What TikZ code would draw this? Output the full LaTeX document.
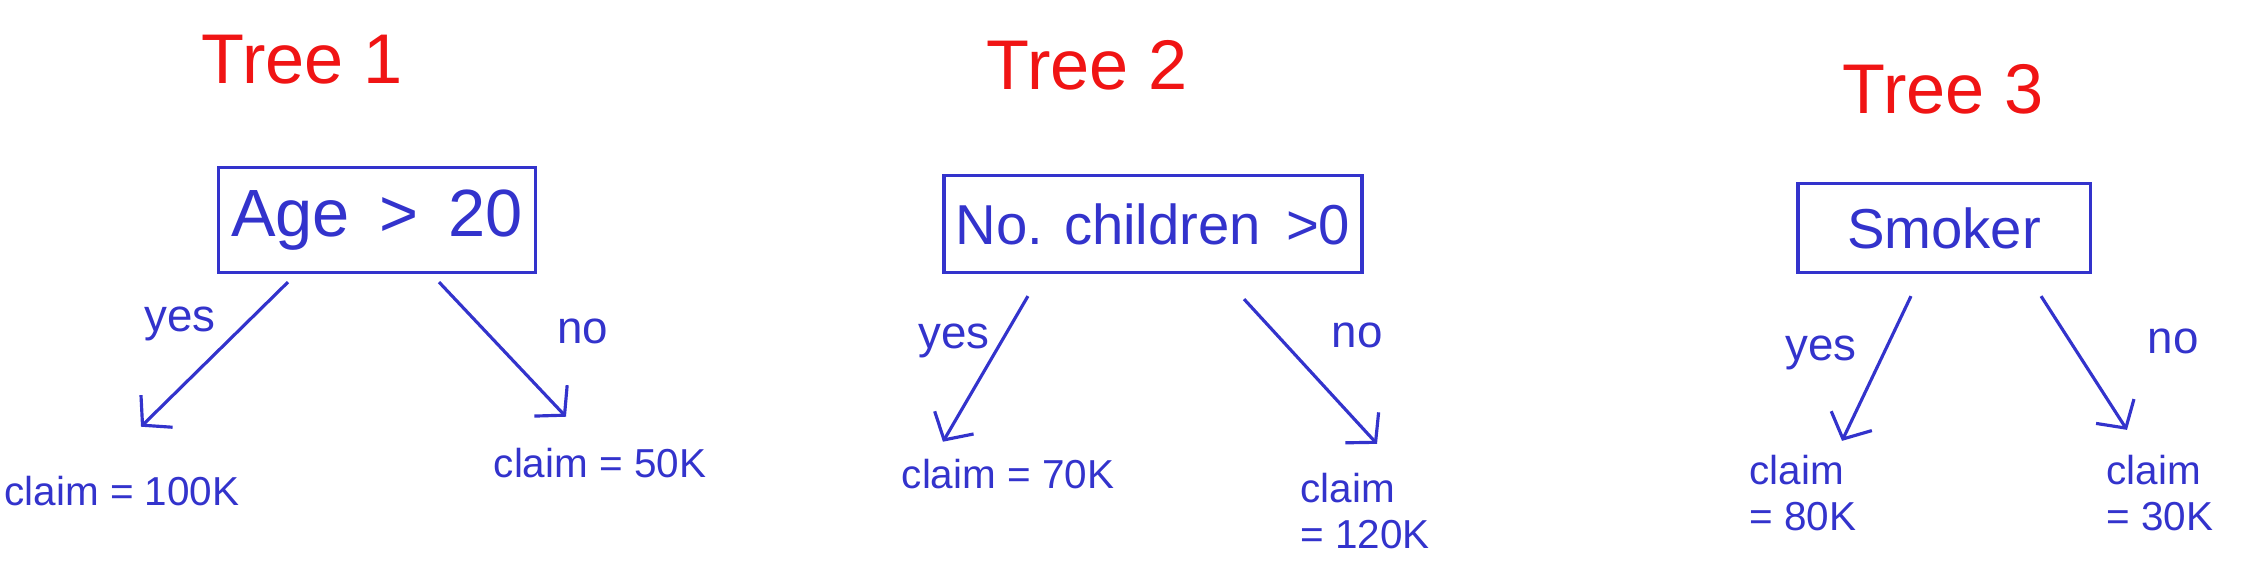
\documentclass[tikz,border=0pt]{standalone}
\usepackage{fontspec}
\setmainfont{Liberation Sans}
\usetikzlibrary{arrows.meta}
\definecolor{inkblue}{RGB}{51,51,204}
\definecolor{inkred}{RGB}{240,20,20}

\begin{document}
\begin{tikzpicture}[x=0.01cm,y=-0.01cm,
	title/.style={text=inkred,font=\fontsize{20}{24}\selectfont},
	split/.style={draw=inkblue,text=inkblue,line width=0.9pt,font=\fontsize{16}{19}\selectfont},
	leaf/.style={text=inkblue,font=\fontsize{11.5}{13}\selectfont,align=left},
	answer/.style={text=inkblue,font=\fontsize{13}{16}\selectfont},
	branch/.style={draw=inkblue,line width=0.9pt,-{Straight Barb[length=2mm,width=4.5mm]}}]
	\useasboundingbox (0,0) rectangle (2257,569);

	% tree 1
	\node[title] (t1) at (302,60) {Tree 1};
	\node[split,minimum width=3.16cm,minimum height=1.05cm,font=\fontsize{19}{23}\selectfont] (age) at (377,220) {Age \,>\, 20};
	\node[answer] (yes1) at (180,324) {yes};
	\node[answer] (no1) at (583,331) {no};
	\node[leaf] (c1a) at (122,491) {claim = 100K};
	\node[leaf] (c1b) at (600,463) {claim = 50K};

	% tree 2
	\node[title] (t2) at (1087,65) {Tree 2};
	\node[split,minimum width=3.99cm,minimum height=0.97cm] (kids) at (1153,224) {No. children \,>0};
	\node[answer] (yes2) at (954,341) {yes};
	\node[answer] (no2) at (1357,335) {no};
	\node[leaf] (c2a) at (1008,474) {claim = 70K};
	\node[leaf] (c2b) at (1365,511) {claim\\= 120K};

	% tree 3
	\node[title] (t3) at (1943,89) {Tree 3};
	\node[split,minimum width=2.92cm,minimum height=0.89cm] (smoker) at (1944,228) {Smoker};
	\node[answer] (yes3) at (1821,353) {yes};
	\node[answer] (no3) at (2173,341) {no};
	\node[leaf] (c3a) at (1803,493) {claim\\= 80K};
	\node[leaf] (c3b) at (2160,493) {claim\\= 30K};

\draw[branch] ([xshift=-0.89cm,yshift=-0.08cm]age.south) -- ([xshift=0.19cm,yshift=0.37cm]c1a.north);
\draw[branch] ([xshift=0.62cm,yshift=-0.08cm]age.south) -- ([xshift=-0.34cm,yshift=0.19cm]c1b.north);
\draw[branch] ([xshift=-1.25cm,yshift=-0.22cm]kids.south) -- ([xshift=-0.65cm,yshift=0.05cm]c2a.north);
\draw[branch] ([xshift=0.91cm,yshift=-0.25cm]kids.south) -- ([xshift=0.12cm,yshift=0.17cm]c2b.north);
\draw[branch] ([xshift=-0.33cm,yshift=-0.22cm]smoker.south) -- ([xshift=0.39cm,yshift=0.02cm]c3a.north);
\draw[branch] ([xshift=0.97cm,yshift=-0.22cm]smoker.south) -- ([xshift=-0.33cm,yshift=0.13cm]c3b.north);
\end{tikzpicture}
\end{document}
